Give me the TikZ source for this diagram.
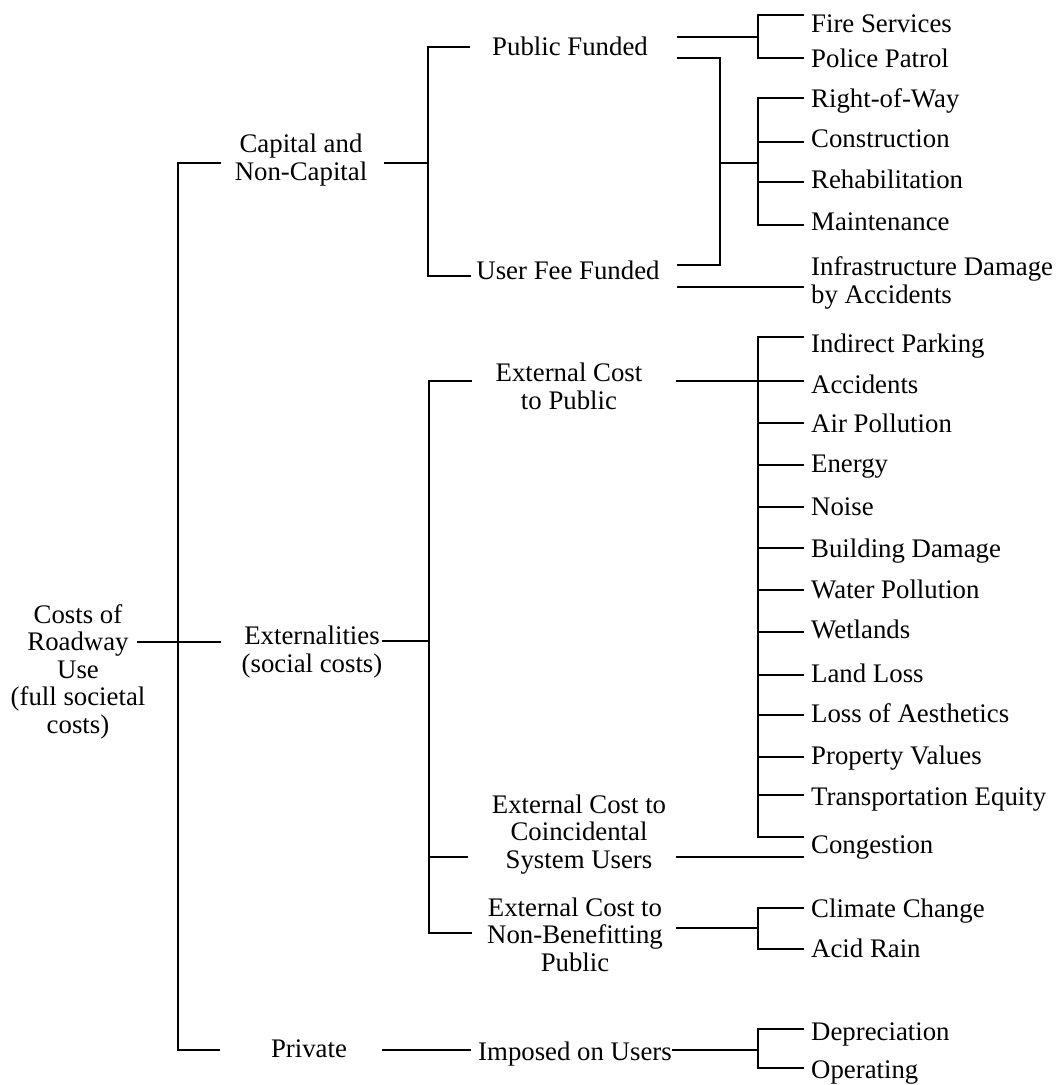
\documentclass[tikz,border=0pt]{standalone}
\usepackage{fontspec}
\setmainfont{Liberation Serif}
\begin{document}
\begin{tikzpicture}[x=1pt,y=-1pt,
  txt/.style={inner sep=0pt, font=\fontsize{26.8}{27.5}\selectfont, align=center, anchor=base},
  leaf/.style={inner sep=0pt, font=\fontsize{26.8}{27.5}\selectfont, align=left, anchor=base west},
  conn/.style={line width=2.6pt, line cap=rect, line join=miter}]
\useasboundingbox (0,0) rectangle (1059,1085);
% ---- text nodes (multi-line nodes are placed by the baseline of their last line)
\node[txt] (root) at (78,733) {Costs of\\Roadway\\Use\\(full societal\\costs)};
\node[txt] (cap) at (301,180) {Capital and\\Non-Capital};
\node[txt] (ext) at (312,672) {Externalities\\(social costs)};
\node[txt] (priv) at (309,1057) {Private};
\node[txt] (pf) at (570,55) {Public Funded};
\node[txt] (uf) at (568,279) {User Fee Funded};
\node[txt] (ep) at (569,409) {External Cost\\to Public};
\node[txt] (ec) at (579,868) {External Cost to\\Coincidental\\System Users};
\node[txt] (en) at (575,971) {External Cost to\\Non-Benefitting\\Public};
\node[txt] (iu) at (575,1060) {Imposed on Users};
\foreach \n/\y/\t in {fire/32/Fire Services, police/67/Police Patrol, row/107/Right-of-Way,
  cons/147/Construction, rehab/188/Rehabilitation, maint/230/Maintenance,
  ip/352/Indirect Parking, acc/393/Accidents, air/432/Air Pollution, energy/472/Energy,
  noise/515/Noise, bd/557/Building Damage, wp/598/Water Pollution, wet/638/Wetlands,
  land/682/Land Loss, aes/722/Loss of Aesthetics, prop/764/Property Values,
  te/805/Transportation Equity, cong/853/Congestion, cc/917/Climate Change,
  ar/957/Acid Rain, dep/1040/Depreciation, op/1078/Operating}
  \node[leaf] (\n) at (811,\y) {\t};
\node[leaf] (infra) at (811,303) {Infrastructure Damage\\by Accidents};
% ---- junction coordinates
\coordinate (J0t) at (178,163); \coordinate (J0b) at (178,1050);
\coordinate (J1t) at (428,47);  \coordinate (J1b) at (428,276);
\coordinate (J2t) at (429,381); \coordinate (J2b) at (429,933);
\coordinate (Kt) at (720,58);   \coordinate (Kb) at (720,265);
% ---- connectors
\draw[conn] (138,642) -- (220,642);
\draw[conn] (220,163) -- (J0t) -- (J0b) -- (219,1050);
\draw[conn] (385,163) -- (428,163);
\draw[conn] (469,47) -- (J1t) -- (J1b) -- (470,276);
\draw[conn] (383,641) -- (429,641);
\draw[conn] (471,381) -- (J2t) -- (J2b) -- (471,933);
\draw[conn] (429,857) -- (467,857);
\draw[conn] (383,1050) -- (470,1050);
% public funded
\draw[conn] (678,37) -- (758,37);
\draw[conn] (803,15) -- (758,15) -- (758,58) -- (803,58);
\draw[conn] (678,58) -- (Kt) -- (Kb) -- (678,265);
\draw[conn] (720,163) -- (758,163);
\draw[conn] (803,98) -- (758,98) -- (758,225) -- (803,225);
\foreach \y in {142,182} \draw[conn] (758,\y) -- (803,\y);
\draw[conn] (678,287) -- (803,287);
% external cost to public
\draw[conn] (677,381) -- (758,381);
\draw[conn] (803,337) -- (758,337) -- (758,837) -- (803,837);
\foreach \y in {381,423,465,507,548,590,632,675,715,757,795} \draw[conn] (758,\y) -- (803,\y);
\draw[conn] (677,857) -- (803,857);
% non-benefitting
\draw[conn] (677,928) -- (758,928);
\draw[conn] (803,908) -- (758,908) -- (758,949) -- (803,949);
% imposed on users
\draw[conn] (673,1050) -- (758,1050);
\draw[conn] (803,1029) -- (758,1029) -- (758,1068) -- (803,1068);
\end{tikzpicture}
\end{document}
